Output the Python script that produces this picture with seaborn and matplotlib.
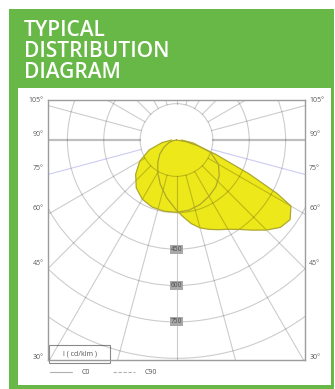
import numpy as np
import pandas as pd
import matplotlib
matplotlib.use("Agg")
import matplotlib.pyplot as plt
from matplotlib.patches import Rectangle, Circle
from matplotlib.lines import Line2D
import seaborn as sns

# Luminous intensity (cd/klm) against angle from nadir (degrees, + to the right)
angles_c0 = [-90, -80, -70, -60, -50, -40, -30, -20, -10, 0, 10, 20, 30, 40, 50, 60, 70, 80, 90]
intensity_c0 = [20, 60, 120, 175, 220, 258, 282, 294, 298, 298, 294, 283, 268, 252, 230, 200, 150, 70, 20]

angles_c90 = [-90, -80, -70, -60, -50, -40, -30, -20, -10, 0, 5, 10, 15, 20, 25, 30, 35,
              40, 45, 50, 55, 60, 62, 65, 70, 75, 80, 90]
intensity_c90 = [0, 15, 35, 60, 90, 120, 155, 195, 240, 290, 318, 350, 375, 392, 408, 425, 450,
                 485, 525, 560, 572, 545, 470, 330, 170, 90, 40, 0]

ring_values = [150, 300, 450, 600, 750, 900, 1050, 1200, 1350, 1500]
ring_labels = [450, 600, 750]
angle_ticks = [30, 45, 60, 75, 90, 105]
legend_names = ["C0", "C90"]
unit_label = "I ( cd/klm )"
title = "TYPICAL\nDISTRIBUTION\nDIAGRAM"

W, H = 335, 389
GREEN = "#67b846"
FILL = "#ede81a"
EDGE = "#aea82a"

sns.set_theme(style="white")
plt.rcParams["font.family"] = ["Open Sans", "DejaVu Sans"]

fig = plt.figure(figsize=(W / 100, H / 100), dpi=100)
fig.patch.set_facecolor("white")


def fx(px):
    return px / W


def fy(py):
    return 1 - py / H


# green panel and the white chart area inside it
fig.add_artist(Rectangle((fx(9), fy(389)), fx(334) - fx(9), fy(9) - fy(389),
                         transform=fig.transFigure, facecolor=GREEN, edgecolor="none", zorder=0))
fig.add_artist(Rectangle((fx(17.5), fy(385)), fx(331) - fx(17.5), fy(88) - fy(385),
                         transform=fig.transFigure, facecolor="white", edgecolor="none", zorder=0))
fig.text(fx(24), fy(20), title, color="white", fontsize=15, fontweight="semibold",
         va="top", ha="left", linespacing=1.0, family=["Open Sans", "DejaVu Sans"])

# polar diagram drawn on a cartesian axes (units: cd/klm)
ax = fig.add_axes([fx(48), fy(360), fx(305) - fx(48), fy(100) - fy(360)])
ax.set_xlim(-530, 530)
ax.set_ylim(-907, 165)
ax.set_facecolor("none")
ax.set_xticks([])
ax.set_yticks([])
for s in ax.spines.values():
    s.set_color("#9c9c9c")
    s.set_linewidth(1.0)


def to_xy(angles, values):
    t = np.radians(np.asarray(angles, dtype=float))
    v = np.asarray(values, dtype=float)
    return v * np.sin(t), -v * np.cos(t)


curves = []
for name, a, v in [("C0", angles_c0, intensity_c0), ("C90", angles_c90, intensity_c90)]:
    x, y = to_xy(a, v)
    curves.append(pd.DataFrame({"x": x, "y": y, "plane": name}))
    ax.fill(x, y, color=FILL, zorder=1, lw=0)
curves_df = pd.concat(curves, ignore_index=True)

# grid: rings and rays, drawn over the fill
grid_kw = dict(color="black", alpha=0.2, lw=0.8, zorder=2)
for r in ring_values:
    ax.add_patch(Circle((0, 0), r, fill=False, ec="black", alpha=0.2, lw=0.8, zorder=2))
for deg in range(0, 360, 15):
    t = np.radians(deg)
    xs = np.array([150, 2000]) * np.sin(t)
    ys = -np.array([150, 2000]) * np.cos(t)
    if deg in (90, 270):
        ax.plot(xs, ys, color="black", alpha=0.25, lw=1.6, zorder=2)
    elif deg in (75, 285):
        ax.plot(xs, ys, color="#8080e0", alpha=0.4, lw=0.8, zorder=2)
    else:
        ax.plot(xs, ys, **grid_kw)

# curve outlines
sns.lineplot(data=curves_df, x="x", y="y", units="plane", estimator=None, sort=False,
             color=EDGE, lw=0.9, ax=ax, zorder=3, legend=False)
ax.set_xlabel("")
ax.set_ylabel("")

# ring value labels along the nadir line
for rv in ring_labels:
    ax.text(0, -rv, str(rv), fontsize=4.8, color="#4a4a4a", ha="center", va="center", zorder=4,
            bbox=dict(boxstyle="square,pad=0.15", fc="#a8a8a8", ec="none"))

# angle labels where the rays meet the frame
for a in angle_ticks:
    yv = -530 / np.tan(np.radians(a))
    for side in (-1, 1):
        ax.annotate(f"{a}°", xy=(side * 530, yv), xytext=(side * 3, 4), textcoords="offset points",
                    ha="right" if side < 0 else "left", va="center", fontsize=5,
                    color="#5a5a5a", annotation_clip=False)

# unit box
ax.add_patch(Rectangle((fx(49), fy(363)), fx(110) - fx(49), fy(345) - fy(363),
                       transform=fig.transFigure, fill=False, ec="#8a8a8a", lw=0.8, clip_on=False))
fig.text(fx(80), fy(354), unit_label, fontsize=5, color="#555555", ha="center", va="center")

# legend below the frame
fig.add_artist(Line2D([fx(50), fx(72)], [fy(372), fy(372)], transform=fig.transFigure,
                      color="#b0b0b0", lw=0.8, ls="-"))
fig.text(fx(82), fy(372), legend_names[0], fontsize=5, color="#555555", va="center")
fig.add_artist(Line2D([fx(113), fx(135)], [fy(372), fy(372)], transform=fig.transFigure,
                      color="#b0b0b0", lw=0.8, ls=(0, (3, 1.5))))
fig.text(fx(145), fy(372), legend_names[1], fontsize=5, color="#555555", va="center")

fig.savefig("out.png", dpi=100, facecolor="white")
